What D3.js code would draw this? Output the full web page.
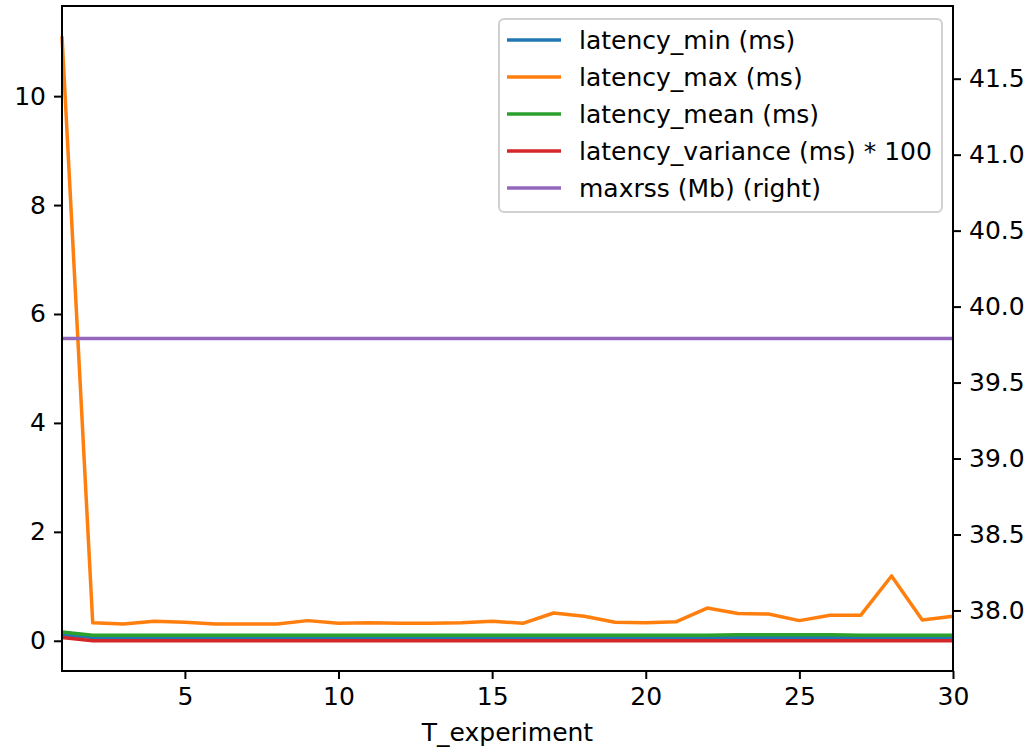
<!DOCTYPE html>
<html>
<head>
<meta charset="utf-8">
<script src="https://cdn.jsdelivr.net/npm/d3@7"></script>
<style>
  body { margin: 0; background: #fff; }
  text { font-family: "DejaVu Sans", sans-serif; fill: #000; }
</style>
</head>
<body>
<div id="chart"></div>
<script>
// T_experiment values on the x axis
const tExperiment = [1, 2, 3, 4, 5, 6, 7, 8, 9, 10, 11, 12, 13, 14, 15,
  16, 17, 18, 19, 20, 21, 22, 23, 24, 25, 26, 27, 28, 29, 30];

const latencyMin = [0.11, 0.06, 0.06, 0.06, 0.06, 0.06, 0.06, 0.06, 0.06, 0.06,
  0.06, 0.06, 0.06, 0.06, 0.06, 0.06, 0.06, 0.06, 0.06, 0.06,
  0.06, 0.06, 0.06, 0.06, 0.06, 0.06, 0.06, 0.06, 0.06, 0.06];
const latencyMax = [11.1, 0.33, 0.31, 0.36, 0.34, 0.31, 0.31, 0.31, 0.37, 0.32,
  0.33, 0.32, 0.32, 0.33, 0.36, 0.32, 0.51, 0.45, 0.34, 0.33,
  0.35, 0.60, 0.50, 0.49, 0.37, 0.47, 0.47, 1.19, 0.38, 0.45];
const latencyMean = [0.16, 0.10, 0.10, 0.10, 0.10, 0.10, 0.10, 0.10, 0.10, 0.10,
  0.10, 0.10, 0.10, 0.10, 0.10, 0.10, 0.10, 0.10, 0.10, 0.10,
  0.10, 0.10, 0.11, 0.11, 0.11, 0.11, 0.10, 0.10, 0.10, 0.10];
const latencyVariance100 = [0.06, 0.0, 0.0, 0.0, 0.0, 0.0, 0.0, 0.0, 0.0, 0.0,
  0.0, 0.0, 0.0, 0.0, 0.0, 0.0, 0.0, 0.0, 0.0, 0.0,
  0.0, 0.0, 0.0, 0.0, 0.0, 0.0, 0.0, 0.0, 0.0, 0.0];
const maxrss = [39.79, 39.79, 39.79, 39.79, 39.79, 39.79, 39.79, 39.79, 39.79, 39.79,
  39.79, 39.79, 39.79, 39.79, 39.79, 39.79, 39.79, 39.79, 39.79, 39.79,
  39.79, 39.79, 39.79, 39.79, 39.79, 39.79, 39.79, 39.79, 39.79, 39.79];

const xTicks = [5, 10, 15, 20, 25, 30];
const leftTicks = [0, 2, 4, 6, 8, 10];
const rightTicks = [38.0, 38.5, 39.0, 39.5, 40.0, 40.5, 41.0, 41.5];

const seriesLabels = ["latency_min (ms)", "latency_max (ms)", "latency_mean (ms)",
  "latency_variance (ms) * 100", "maxrss (Mb) (right)"];
const seriesColors = ["#1f77b4", "#ff7f0e", "#2ca02c", "#d62728", "#9467bd"];

var width = 1030, height = 749;
var margin = { top: 6, right: 77, bottom: 78, left: 62 };
var fontSize = 25;

var svg = d3.select("#chart")
  .append("svg")
  .attr("width", width)
  .attr("height", height);

var x = d3.scaleLinear()
  .domain(d3.extent(tExperiment))
  .range([margin.left, width - margin.right]);

// left axis, matplotlib style 5% margins
var leftAll = [].concat(latencyMin, latencyMax, latencyMean, latencyVariance100);
var lmin = d3.min(leftAll), lmax = d3.max(leftAll);
var lpad = (lmax - lmin) * 0.05;
var yLeft = d3.scaleLinear()
  .domain([lmin - lpad, lmax + lpad])
  .range([height - margin.bottom, margin.top]);

// right axis: constant series gets expanded by 5% then padded by 5%
var rv = d3.mean(maxrss);
var rlo = rv * 0.95, rhi = rv * 1.05, rpad = (rhi - rlo) * 0.05;
var yRight = d3.scaleLinear()
  .domain([rlo - rpad, rhi + rpad])
  .range([height - margin.bottom, margin.top]);

function lineFor(scale) {
  return d3.line()
    .x(function(d, i) { return x(tExperiment[i]); })
    .y(function(d) { return scale(d); });
}

var plot = svg.append("g").attr("class", "lines");
var leftSeries = [latencyMin, latencyMax, latencyMean, latencyVariance100];
leftSeries.forEach(function(s, i) {
  plot.append("path")
    .datum(s)
    .attr("d", lineFor(yLeft))
    .attr("fill", "none")
    .attr("stroke", seriesColors[i])
    .attr("stroke-width", 3.5)
    .attr("stroke-linejoin", "round");
});
plot.append("path")
  .datum(maxrss)
  .attr("d", lineFor(yRight))
  .attr("fill", "none")
  .attr("stroke", seriesColors[4])
  .attr("stroke-width", 3.5);

// axes
var xAxis = svg.append("g")
  .attr("transform", "translate(0," + (height - margin.bottom) + ")")
  .call(d3.axisBottom(x).tickValues(xTicks).tickSize(8).tickPadding(8).tickFormat(d3.format("d")));
var lAxis = svg.append("g")
  .attr("transform", "translate(" + margin.left + ",0)")
  .call(d3.axisLeft(yLeft).tickValues(leftTicks).tickSize(8).tickPadding(8).tickFormat(d3.format("d")));
var rAxis = svg.append("g")
  .attr("transform", "translate(" + (width - margin.right) + ",0)")
  .call(d3.axisRight(yRight).tickValues(rightTicks).tickSize(8).tickPadding(8).tickFormat(d3.format(".1f")));

[xAxis, lAxis, rAxis].forEach(function(a) {
  a.select(".domain").remove();
  a.selectAll(".tick line").attr("stroke", "#000").attr("stroke-width", 2);
  a.selectAll(".tick text")
    .style("font-size", fontSize + "px")
    .style("font-family", "DejaVu Sans");
});

// frame
svg.append("rect")
  .attr("x", margin.left)
  .attr("y", margin.top)
  .attr("width", width - margin.left - margin.right)
  .attr("height", height - margin.top - margin.bottom)
  .attr("fill", "none")
  .attr("stroke", "#000")
  .attr("stroke-width", 2);

svg.append("text")
  .attr("x", (margin.left + width - margin.right) / 2)
  .attr("y", 741)
  .attr("text-anchor", "middle")
  .style("font-size", fontSize + "px")
  .text("T_experiment");

// legend
var legend = svg.append("g").attr("class", "legend");
legend.append("rect")
  .attr("x", 499)
  .attr("y", 19)
  .attr("width", 443)
  .attr("height", 193)
  .attr("rx", 5)
  .attr("fill", "#fff")
  .attr("fill-opacity", 0.8)
  .attr("stroke", "#d0d0d0")
  .attr("stroke-width", 2);

seriesLabels.forEach(function(lbl, i) {
  var cy = 40 + i * 37;
  legend.append("line")
    .attr("x1", 507).attr("x2", 561)
    .attr("y1", cy).attr("y2", cy)
    .attr("stroke", seriesColors[i])
    .attr("stroke-width", 3.5);
  legend.append("text")
    .attr("x", 579)
    .attr("y", cy)
    .attr("dy", "0.35em")
    .style("font-size", fontSize + "px")
    .text(lbl);
});
</script>
</body>
</html>
